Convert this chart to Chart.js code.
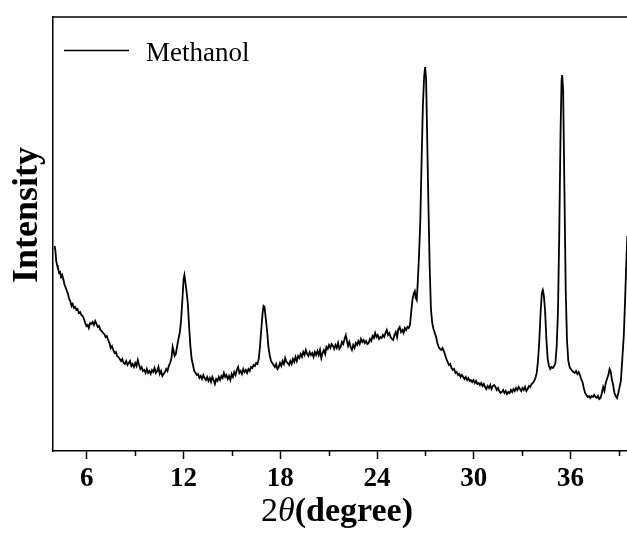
<!DOCTYPE html>
<html>
<head>
<meta charset="utf-8">
<script src="https://cdn.jsdelivr.net/npm/chart.js@4.4.1/dist/chart.umd.min.js"></script>
<style>
  body { margin: 0; background: #fff; }
  canvas { display: block; }
</style>
</head>
<body>
<canvas id="xrd" width="627" height="534"></canvas>
<script>
// 2theta (degree)
const twoTheta = [
  4.00, 4.05, 4.10, 4.15, 4.20, 4.28, 4.34, 4.40, 4.47, 4.55, 4.62, 4.70, 4.76, 4.83, 4.90, 4.97,
  5.05, 5.12, 5.20, 5.27, 5.35, 5.42, 5.50, 5.58, 5.66, 5.74, 5.82, 5.90, 5.97, 6.05, 6.12, 6.20,
  6.28, 6.36, 6.44, 6.52, 6.60, 6.68, 6.76, 6.84, 6.92, 7.00, 7.08, 7.16, 7.24, 7.32, 7.40, 7.48,
  7.56, 7.64, 7.72, 7.80, 7.88, 7.96, 8.04, 8.12, 8.20, 8.28, 8.36, 8.44, 8.52, 8.60, 8.68, 8.76,
  8.84, 8.92, 9.00, 9.08, 9.16, 9.24, 9.32, 9.40, 9.48, 9.56, 9.64, 9.72, 9.80, 9.88, 9.96, 10.04,
  10.12, 10.20, 10.28, 10.36, 10.44, 10.52, 10.60, 10.68, 10.76, 10.84, 10.92, 11.00, 11.08, 11.16,
  11.24, 11.32, 11.38, 11.44, 11.52, 11.60, 11.68, 11.76, 11.84, 11.92, 12.00, 12.05, 12.10, 12.18,
  12.26, 12.34, 12.42, 12.50, 12.58, 12.66, 12.74, 12.82, 12.90, 12.98, 13.06, 13.14, 13.22, 13.30,
  13.38, 13.46, 13.54, 13.62, 13.70, 13.78, 13.86, 13.94, 14.02, 14.10, 14.18, 14.26, 14.34, 14.42,
  14.50, 14.58, 14.66, 14.74, 14.82, 14.90, 14.98, 15.06, 15.14, 15.22, 15.30, 15.38, 15.46, 15.54,
  15.62, 15.70, 15.78, 15.86, 15.94, 16.02, 16.10, 16.18, 16.26, 16.34, 16.42, 16.50, 16.58, 16.66,
  16.74, 16.82, 16.90, 16.96, 17.02, 17.10, 17.18, 17.26, 17.34, 17.42, 17.50, 17.58, 17.66, 17.74,
  17.82, 17.90, 17.98, 18.06, 18.14, 18.22, 18.30, 18.38, 18.46, 18.54, 18.62, 18.70, 18.78, 18.86,
  18.94, 19.02, 19.10, 19.18, 19.26, 19.34, 19.42, 19.50, 19.58, 19.66, 19.74, 19.82, 19.90, 19.98,
  20.06, 20.14, 20.22, 20.30, 20.38, 20.46, 20.54, 20.62, 20.70, 20.78, 20.86, 20.94, 21.02, 21.10,
  21.18, 21.26, 21.34, 21.42, 21.50, 21.58, 21.66, 21.74, 21.82, 21.90, 21.98, 22.06, 22.12, 22.20,
  22.28, 22.36, 22.44, 22.52, 22.60, 22.68, 22.76, 22.84, 22.92, 23.00, 23.08, 23.16, 23.24, 23.32,
  23.40, 23.48, 23.56, 23.64, 23.72, 23.80, 23.88, 23.96, 24.04, 24.12, 24.20, 24.28, 24.36, 24.44,
  24.52, 24.60, 24.68, 24.76, 24.84, 24.92, 25.00, 25.08, 25.16, 25.24, 25.32, 25.40, 25.48, 25.56,
  25.64, 25.72, 25.80, 25.88, 25.96, 26.04, 26.12, 26.20, 26.28, 26.34, 26.40, 26.46, 26.52, 26.60,
  26.68, 26.76, 26.84, 26.92, 26.98, 27.04, 27.10, 27.18, 27.26, 27.34, 27.42, 27.50, 27.58, 27.66,
  27.74, 27.82, 27.90, 27.98, 28.06, 28.14, 28.22, 28.30, 28.38, 28.46, 28.54, 28.62, 28.70, 28.78,
  28.86, 28.94, 29.02, 29.10, 29.18, 29.26, 29.34, 29.42, 29.50, 29.58, 29.66, 29.74, 29.82, 29.90,
  29.98, 30.06, 30.14, 30.22, 30.30, 30.38, 30.46, 30.54, 30.62, 30.70, 30.78, 30.86, 30.94, 31.02,
  31.10, 31.18, 31.26, 31.34, 31.42, 31.50, 31.58, 31.66, 31.74, 31.82, 31.90, 31.98, 32.06, 32.14,
  32.22, 32.30, 32.38, 32.46, 32.54, 32.62, 32.70, 32.78, 32.86, 32.94, 33.02, 33.10, 33.18, 33.26,
  33.34, 33.42, 33.50, 33.58, 33.66, 33.74, 33.82, 33.90, 33.98, 34.06, 34.14, 34.22, 34.28, 34.34,
  34.42, 34.50, 34.58, 34.66, 34.74, 34.82, 34.90, 34.98, 35.06, 35.14, 35.22, 35.30, 35.38, 35.44,
  35.48, 35.54, 35.62, 35.70, 35.78, 35.86, 35.94, 36.02, 36.10, 36.18, 36.26, 36.34, 36.42, 36.50,
  36.58, 36.66, 36.74, 36.82, 36.90, 36.98, 37.06, 37.14, 37.22, 37.30, 37.38, 37.46, 37.54, 37.62,
  37.70, 37.78, 37.86, 37.94, 38.02, 38.10, 38.18, 38.26, 38.34, 38.42, 38.48, 38.56, 38.64, 38.72,
  38.80, 38.88, 38.96, 39.04, 39.12, 39.22, 39.30, 39.38, 39.46, 39.52
];

// intensity (arbitrary units)
const intensity = [
  205, 200, 190, 186, 183, 178, 179, 174, 176, 171, 166, 163, 160, 157, 152, 150,
  145, 147, 143, 144, 141, 142, 138, 139, 136, 135, 132, 128, 125, 126, 123, 128,
  127, 129, 126, 130, 127, 124, 125, 121, 120, 118, 117, 114, 115, 111, 108, 103,
  105, 101, 98, 99, 95, 94, 92, 90, 92, 88, 87, 90, 86, 88, 90, 85,
  87, 84, 88, 85, 91, 86, 82, 84, 80, 81, 78, 82, 78, 80, 77, 81,
  79, 83, 78, 80, 84, 77, 80, 75, 77, 79, 82, 80, 85, 88,
  92, 104, 100, 95, 97, 105, 112, 118, 130, 150, 172, 176, 170, 160,
  148, 125, 105, 92, 86, 80, 78, 76, 77, 73, 75, 72, 76, 73,
  71, 74, 70, 73, 69, 74, 71, 67, 72, 70, 74, 71, 75, 73,
  78, 74, 76, 72, 75, 71, 77, 74, 79, 76, 81, 84, 78, 80,
  77, 82, 79, 81, 78, 82, 80, 84, 83, 86, 85, 88, 87, 92,
  105, 122, 138, 145, 144, 132, 120, 104, 96, 90, 88, 86, 84, 87,
  82, 84, 88, 85, 90, 87, 93, 89, 88, 86, 90, 87, 92, 89,
  94, 90, 95, 93, 97, 94, 99, 96, 101, 97, 95, 99, 96, 98,
  94, 99, 96, 100, 96, 101, 93, 98, 101, 97, 104, 102, 106, 103,
  107, 105, 102, 106, 103, 108, 102, 104, 109, 107, 112, 116, 111, 105,
  109, 104, 101, 106, 103, 108, 106, 110, 107, 112, 109, 111, 108, 110,
  107, 108, 112, 110, 115, 113, 118, 114, 116, 112, 114, 113, 116, 114,
  118, 121, 116, 118, 114, 112, 111, 116, 119, 114, 122, 124, 119, 121,
  118, 123, 121, 124, 123, 126, 140, 152, 158, 160, 153, 151, 168, 195,
  230, 290, 345, 375, 384, 372, 320, 250, 185, 142, 128, 122, 118, 114,
  108, 104, 102, 101, 103, 100, 96, 92, 89, 86, 87, 83, 81, 82,
  78, 79, 76, 77, 74, 76, 74, 72, 74, 71, 73, 70, 71, 69,
  71, 68, 70, 67, 68, 66, 68, 65, 67, 64, 62, 65, 63, 66,
  62, 65, 66, 64, 61, 63, 60, 58, 59, 61, 58, 60, 57, 59,
  58, 61, 59, 62, 60, 63, 61, 64, 62, 60, 63, 61, 64, 60,
  62, 65, 64, 67, 68, 70, 73, 78, 90, 110, 138, 158, 161, 156,
  140, 112, 92, 85, 82, 84, 83, 85, 88, 105, 140, 220, 320, 370,
  376, 360, 260, 160, 110, 90, 84, 82, 80, 79, 78, 80, 77, 79,
  76, 72, 69, 63, 58, 56, 54, 55, 53, 55, 54, 56, 54, 53,
  55, 52, 53, 58, 64, 60, 68, 72, 76, 82, 80, 72, 66, 58,
  55, 53, 58, 64, 70, 95, 115, 150, 190, 215
];

const seriesLabel = 'Methanol';
const majorTicks = [6, 12, 18, 24, 30, 36];
const minorTicks = [9, 15, 21, 27, 33, 39];

const serif = '"Liberation Serif", "Times New Roman", serif';

// frame top line, minor ticks, legend and axis titles
const decorations = {
    id: 'decorations',
    afterDraw(chart) {
        const ctx = chart.ctx;
        const area = chart.chartArea;
        const xs = chart.scales.x;
        ctx.save();
        ctx.strokeStyle = '#000';
        ctx.fillStyle = '#000';

        // top border
        ctx.lineWidth = 1.5;
        ctx.beginPath();
        ctx.moveTo(area.left, area.top);
        ctx.lineTo(area.right, area.top);
        ctx.stroke();

        // minor ticks
        ctx.lineWidth = 1.5;
        minorTicks.forEach(v => {
            const px = Math.round(xs.getPixelForValue(v)) + 0.5;
            ctx.beginPath();
            ctx.moveTo(px, area.bottom);
            ctx.lineTo(px, area.bottom + 5);
            ctx.stroke();
        });

        // legend
        ctx.lineWidth = 1.5;
        ctx.beginPath();
        ctx.moveTo(64, 50.5);
        ctx.lineTo(129, 50.5);
        ctx.stroke();
        ctx.font = '27px ' + serif;
        ctx.textAlign = 'left';
        ctx.textBaseline = 'alphabetic';
        ctx.fillText(chart.data.datasets[0].label, 146, 61);

        // y title
        ctx.save();
        ctx.translate(37, 215);
        ctx.rotate(-Math.PI / 2);
        ctx.font = 'bold 36px ' + serif;
        ctx.textAlign = 'center';
        ctx.fillText('Intensity', 0, 0);
        ctx.restore();

        // x title: 2θ(degree)
        const parts = [
            { t: '2', f: '34px ' + serif },
            { t: 'θ', f: 'italic 34px ' + serif },
            { t: '(degree)', f: 'bold 34px ' + serif }
        ];
        let total = 0;
        parts.forEach(p => { ctx.font = p.f; p.w = ctx.measureText(p.t).width; total += p.w; });
        let x = (area.left + area.right) / 2 - total / 2 - 3;
        parts.forEach(p => {
            ctx.font = p.f;
            ctx.fillText(p.t, x, 521);
            x += p.w;
        });
        ctx.restore();
    }
};

new Chart(document.getElementById('xrd'), {
    type: 'line',
    data: {
        datasets: [{
            label: seriesLabel,
            data: twoTheta.map((t, i) => ({ x: t, y: intensity[i] })),
            borderColor: '#000',
            borderWidth: 1.8,
            pointRadius: 0,
            tension: 0,
            fill: false
        }]
    },
    options: {
        responsive: false,
        animation: false,
        devicePixelRatio: 1,
        layout: { padding: { top: 17, left: 0, right: 0, bottom: 0 } },
        plugins: {
            legend: { display: false },
            tooltip: { enabled: false }
        },
        scales: {
            x: {
                type: 'linear',
                min: 3.9,
                max: 39.5,
                afterFit: (scale) => { scale.height = 83; },
                afterBuildTicks: (scale) => { scale.ticks = majorTicks.map(v => ({ value: v })); },
                border: { display: true, color: '#000', width: 1.5 },
                grid: {
                    display: true,
                    drawOnChartArea: false,
                    drawTicks: true,
                    tickLength: 8,
                    tickColor: '#000',
                    tickWidth: 1.5
                },
                ticks: {
                    color: '#000',
                    padding: 4,
                    maxRotation: 0,
                    font: { family: serif, size: 27, weight: 'bold' },
                    callback: (v) => String(v)
                }
            },
            y: {
                min: 0,
                max: 434,
                afterFit: (scale) => { scale.width = 53; },
                border: { display: true, color: '#000', width: 1.5 },
                grid: { display: false },
                ticks: { display: false }
            }
        }
    },
    plugins: [decorations]
});
</script>
</body>
</html>
